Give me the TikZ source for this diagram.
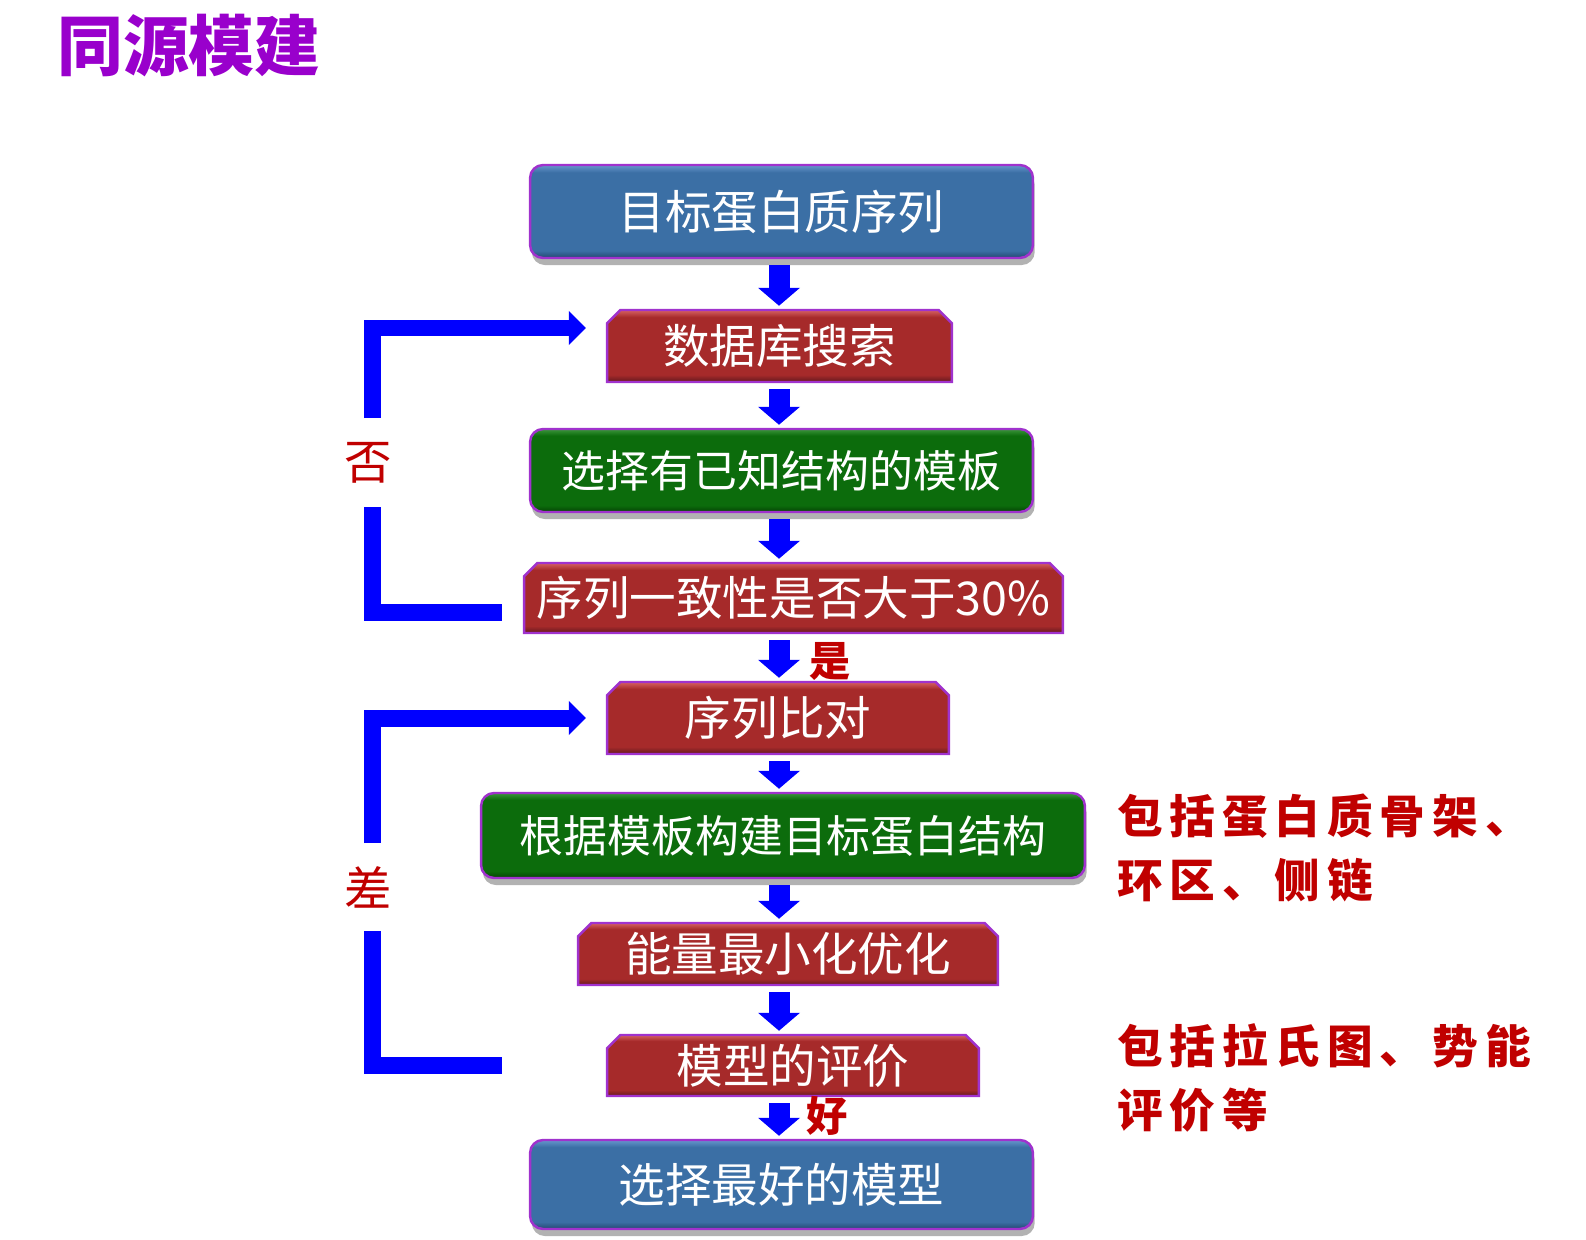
\documentclass[tikz,border=0pt]{standalone}
\usepackage{fontspec}
\setmainfont{Noto Sans CJK SC}
\usetikzlibrary{arrows.meta,shapes.misc,shadows}
\definecolor{boxblue}{RGB}{59,111,165}
\definecolor{boxbluetop}{RGB}{104,150,204}
\definecolor{boxbluebot}{RGB}{36,72,112}
\definecolor{boxgreen}{RGB}{12,108,12}
\definecolor{boxgreentop}{RGB}{60,150,60}
\definecolor{boxgreenbot}{RGB}{5,66,5}
\definecolor{boxred}{RGB}{166,42,42}
\definecolor{boxredtop}{RGB}{214,98,98}
\definecolor{boxredbot}{RGB}{98,24,30}
\definecolor{rimpurple}{RGB}{160,50,205}
\definecolor{titlepurple}{RGB}{153,0,204}
\definecolor{noteRed}{RGB}{192,0,0}
\definecolor{flowblue}{RGB}{0,0,255}
\pgfdeclareverticalshading{bluebevel}{100bp}{color(0bp)=(boxbluebot); color(25bp)=(boxbluebot); color(29bp)=(boxblue); color(71bp)=(boxblue); color(75bp)=(boxbluetop); color(100bp)=(boxbluetop)}
\pgfdeclareverticalshading{greenbevel}{100bp}{color(0bp)=(boxgreenbot); color(25bp)=(boxgreenbot); color(29bp)=(boxgreen); color(71bp)=(boxgreen); color(75bp)=(boxgreentop); color(100bp)=(boxgreentop)}
\pgfdeclareverticalshading{redbevel}{100bp}{color(0bp)=(boxredbot); color(25bp)=(boxredbot); color(30bp)=(boxred); color(70bp)=(boxred); color(75bp)=(boxredtop); color(100bp)=(boxredtop)}
\begin{document}
\begin{tikzpicture}[x=0.02cm, y=-0.02cm,
  flowbox/.style={draw=rimpurple, line width=1.4pt, text=white, inner sep=0pt, font=\fontsize{26.5}{30}\selectfont},
  bluebox/.style={flowbox, rounded corners=0.26cm, shade, shading=bluebevel, drop shadow={shadow xshift=1pt, shadow yshift=-4pt, fill=black, opacity=0.3}},
  greenbox/.style={flowbox, rounded corners=0.26cm, shade, shading=greenbevel, drop shadow={shadow xshift=1pt, shadow yshift=-4pt, fill=black, opacity=0.3}},
  redbox/.style={flowbox, chamfered rectangle, chamfered rectangle corners={north east,north west}, chamfered rectangle sep=3.8pt, shade, shading=redbevel},
  blockarr/.style={draw=flowblue, line width=0.42cm, -{Triangle[width=0.82cm,length=0.36cm]}, shorten <=0.12cm, shorten >=0.06cm},
  loopline/.style={draw=flowblue, line width=0.34cm},
  branchlabel/.style={text=noteRed, font=\fontsize{27}{30}\selectfont},
  yeslabel/.style={text=noteRed, font=\bfseries\fontsize{23.5}{26}\selectfont},
  note/.style={text=noteRed, align=left, inner sep=0pt, font=\bfseries\fontsize{26}{36}\selectfont\addfontfeatures{LetterSpace=15}}]
\useasboundingbox (0,0) rectangle (1586,1240);
\node[font=\bfseries\fontsize{37.5}{40}\selectfont, text=titlepurple] (title) at (189,45.5) {同源模建};

\node[bluebox, minimum width=10.06cm, minimum height=1.86cm] (seq) at (781.5,211.5) {目标蛋白质序列};
\node[redbox, minimum width=6.90cm, minimum height=1.44cm] (search) at (779.5,346) {数据库搜索};
\node[greenbox, minimum width=10.06cm, minimum height=1.66cm, font=\fontsize{25}{30}\selectfont] (template) at (781.5,470.5) {选择有已知结构的模板};
\node[redbox, minimum width=10.78cm, minimum height=1.40cm] (identity) at (793.5,598) {序列一致性是否大于30\%};
\node[redbox, minimum width=6.84cm, minimum height=1.44cm] (align) at (778,718) {序列比对};
\node[greenbox, minimum width=12.08cm, minimum height=1.70cm, font=\fontsize{25}{30}\selectfont] (build) at (783,835.5) {根据模板构建目标蛋白结构};
\node[redbox, minimum width=8.40cm, minimum height=1.24cm] (minimize) at (788,954) {能量最小化优化};
\node[redbox, minimum width=7.44cm, minimum height=1.22cm] (assess) at (793,1065.5) {模型的评价};
\node[bluebox, minimum width=10.06cm, minimum height=1.78cm] (best) at (781.5,1184.5) {选择最好的模型};

\coordinate (col) at (779,0);
\foreach \a/\b in {seq/search, search/template, template/identity, identity/align, align/build, build/minimize, minimize/assess, assess/best}
  \draw[blockarr] (\a.south -| col) -- (\b.north -| col);

\node[yeslabel] (yes) at (830,661) {是};
\node[yeslabel] (good) at (827,1116) {好};

\node[branchlabel] (no) at (368,463) {否};
\coordinate (noTop) at (372,418);
\coordinate (noBot) at (372,507);
\draw[loopline, -{Triangle[width=0.66cm,length=0.34cm]}] (noTop) |- ([shift={(-20,-18)}]search.west);
\draw[loopline] (noBot) |- ([shift={(-21,14)}]identity.west);

\node[branchlabel] (bad) at (368,887) {差};
\coordinate (badTop) at (372,843);
\coordinate (badBot) at (372,931);
\draw[loopline, -{Triangle[width=0.66cm,length=0.34cm]}] (badTop) |- ([shift={(-20,0)}]align.west);
\draw[loopline] (badBot) |- ([shift={(-104,0)}]assess.west);

\node[note, anchor=west] (note1) at (1117,848) {包括蛋白质骨架、\\环区、侧链};
\node[note, anchor=west] (note2) at (1117,1078) {包括拉氏图、势能\\评价等};
\end{tikzpicture}
\end{document}
